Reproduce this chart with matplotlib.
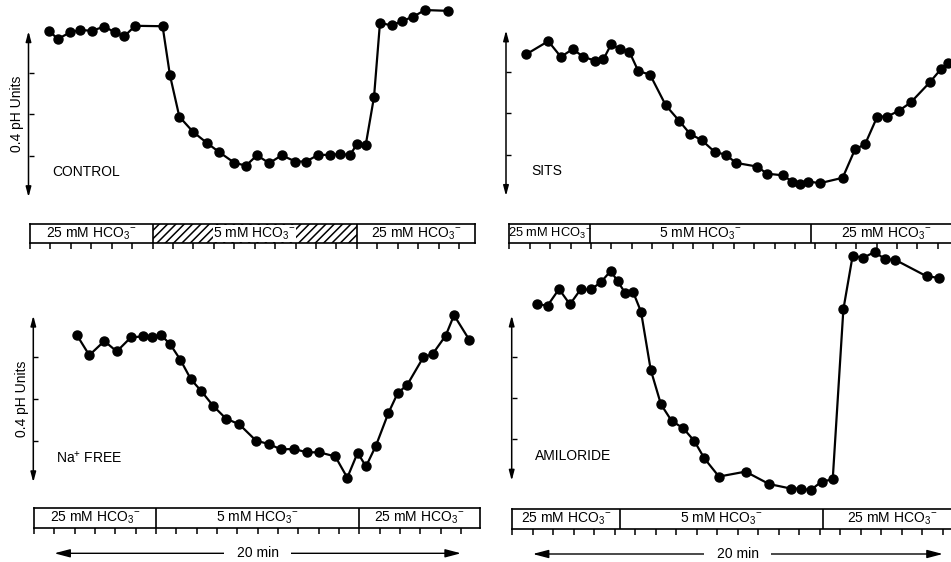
import matplotlib.pyplot as plt
from matplotlib.patches import Rectangle

plt.rcParams['font.family'] = ['Liberation Sans', 'DejaVu Sans']
plt.rcParams['mathtext.fontset'] = 'custom'
plt.rcParams['mathtext.rm'] = 'Liberation Sans'
plt.rcParams['mathtext.it'] = 'Liberation Sans:italic'
plt.rcParams['mathtext.bf'] = 'Liberation Sans:bold'
plt.rcParams['hatch.linewidth'] = 1.1

W, H = 951, 562

# time (min) and change in pH for each condition
control_t = [0.95, 1.35, 1.96, 2.46, 3.02, 3.64, 4.16, 4.62, 5.15, 6.49, 6.85, 7.31,
             7.99, 8.68, 9.25, 10.0, 10.57, 11.11, 11.71, 12.32, 12.99, 13.51, 14.11,
             14.68, 15.15, 15.66, 16.0, 16.43, 16.84, 17.13, 17.70, 18.19, 18.76, 19.33, 20.47]
control_ph = [0.401, 0.381, 0.397, 0.403, 0.401, 0.411, 0.397, 0.388, 0.413, 0.412, 0.294, 0.194,
              0.157, 0.130, 0.109, 0.083, 0.076, 0.101, 0.082, 0.101, 0.086, 0.086, 0.102,
              0.102, 0.104, 0.102, 0.127, 0.125, 0.242, 0.420, 0.414, 0.424, 0.435, 0.451, 0.449]

sits_t = [0.82, 1.91, 2.53, 3.11, 3.63, 4.20, 4.61, 4.99, 5.43, 5.88, 6.32, 6.90, 7.67,
          8.32, 8.86, 9.43, 10.08, 10.61, 11.11, 12.16, 12.62, 13.40, 13.87, 14.25, 14.66,
          15.23, 16.34, 16.95, 17.44, 18.04, 18.53, 19.10, 19.68, 20.62, 21.15, 21.52]
sits_ph = [0.342, 0.374, 0.336, 0.355, 0.336, 0.327, 0.330, 0.366, 0.355, 0.349, 0.302, 0.293, 0.219,
           0.182, 0.150, 0.135, 0.106, 0.100, 0.080, 0.071, 0.054, 0.050, 0.035, 0.029, 0.035,
           0.031, 0.044, 0.113, 0.125, 0.192, 0.192, 0.206, 0.226, 0.275, 0.306, 0.322]

na_t = [2.10, 2.72, 3.46, 4.07, 4.77, 5.38, 5.79, 6.23, 6.69, 7.20, 7.72, 8.21, 8.82, 9.44,
        10.10, 10.92, 11.54, 12.15, 12.80, 13.41, 14.03, 14.82, 15.41, 15.92, 16.33, 16.82,
        17.43, 17.89, 18.36, 19.15, 19.61, 20.25, 20.66, 21.41]
na_ph = [0.354, 0.305, 0.339, 0.314, 0.348, 0.350, 0.348, 0.354, 0.332, 0.294, 0.247, 0.220, 0.183, 0.153,
         0.139, 0.100, 0.092, 0.079, 0.080, 0.072, 0.072, 0.062, 0.011, 0.071, 0.038, 0.088,
         0.166, 0.214, 0.234, 0.300, 0.308, 0.352, 0.401, 0.342]

amil_t = [1.22, 1.72, 2.28, 2.81, 3.33, 3.84, 4.33, 4.80, 5.14, 5.50, 5.90, 6.28, 6.75, 7.25,
          7.77, 8.34, 8.88, 9.37, 10.08, 11.38, 12.52, 13.58, 14.07, 14.55, 15.09, 15.63,
          16.15, 16.60, 17.12, 17.69, 18.18, 18.67, 20.21, 20.83]
amil_ph = [0.427, 0.424, 0.464, 0.427, 0.463, 0.463, 0.481, 0.508, 0.483, 0.455, 0.456, 0.409, 0.269, 0.185,
           0.145, 0.127, 0.096, 0.054, 0.010, 0.022, -0.008, -0.019, -0.019, -0.023, -0.002, 0.003,
           0.415, 0.544, 0.540, 0.554, 0.536, 0.535, 0.495, 0.491]

# solution changes (min): 25 mM -> 5 mM -> 25 mM
control_switch = [6.0, 16.0]
sits_switch = [3.95, 14.8]
na_switch = [6.0, 16.0]
amil_switch = [5.25, 15.15]

hi = r'25 mM HCO$_3{}^{-}$'
lo = r'5 mM HCO$_3{}^{-}$'
bar_labels = [hi, lo, hi]
names = ['CONTROL', 'SITS', 'Na$^{+}$ FREE', 'AMILORIDE']

fig = plt.figure(figsize=(W / 100, H / 100), dpi=100)


def px_axes(left, top, right, bottom):
    return fig.add_axes([left / W, 1 - bottom / H, (right - left) / W, (bottom - top) / H])


# layout in pixels: t0, px/min, y of zero, px per pH unit, arrow x, curve top/bottom, bar top/bottom/right
panels = [
    dict(t=control_t, ph=control_ph, sw=control_switch, name=names[0], t0=30, ppm=20.43,
         zero=197.2, ppu=415, ax_x=28.5, top=0, bot=215, btop=224, bbot=243.3, bright=475,
         ylab=True, hatch=True, span=False),
    dict(t=sits_t, ph=sits_ph, sw=sits_switch, name=names[1], t0=509.3, ppm=20.4,
         zero=196, ppu=414, ax_x=506, top=0, bot=215, btop=224, bbot=243, bright=962,
         ylab=False, hatch=False, span=False),
    dict(t=na_t, ph=na_ph, sw=na_switch, name=names[2], t0=34, ppm=20.33,
         zero=482.3, ppu=416.7, ax_x=33.3, top=245, bot=500, btop=508.3, bbot=528.3, bright=480,
         ylab=True, hatch=False, span=True),
    dict(t=amil_t, ph=amil_ph, sw=amil_switch, name=names[3], t0=512.3, ppm=20.5,
         zero=480.7, ppu=413, ax_x=511.7, top=245, bot=500, btop=509, bbot=529, bright=962,
         ylab=False, hatch=False, span=True),
]

for p in panels:
    right = min(p['bright'], W)
    ax = px_axes(p['ax_x'], p['top'], right, p['bot'])
    x_left = (p['ax_x'] - p['t0']) / p['ppm']
    ax.set_xlim(x_left, (right - p['t0']) / p['ppm'])
    ax.set_ylim((p['zero'] - p['bot']) / p['ppu'], (p['zero'] - p['top']) / p['ppu'])
    for s in ax.spines.values():
        s.set_visible(False)
    ax.patch.set_alpha(0)
    ax.set_xticks([])
    ax.set_yticks([0.1, 0.2, 0.3])
    ax.tick_params(axis='y', direction='in', length=3.6, width=1.0, labelleft=False)

    ax.annotate('', xy=(x_left, 0.4), xytext=(x_left, 0.0),
                arrowprops=dict(arrowstyle='<|-|>,head_length=0.6,head_width=0.16',
                                color='black', lw=1.1, shrinkA=0, shrinkB=0),
                annotation_clip=False)
    if p['ylab']:
        ax.annotate('0.4 pH Units', xy=(x_left, 0.2), xytext=(-11, 0),
                    textcoords='offset pixels', rotation=90, ha='center', va='center',
                    fontsize=10)
    ax.text(1.1, 0.06, p['name'], ha='left', va='center', fontsize=10)

    ax.plot(p['t'], p['ph'], '-o', color='black', lw=1.6, ms=6.5, clip_on=False)

    # solution bar with 1-min ticks
    bx = px_axes(p['t0'], p['btop'], p['bright'], p['bbot'])
    t_end = (p['bright'] - p['t0']) / p['ppm']
    bx.set_xlim(0, t_end)
    bx.set_ylim(0, 1)
    bx.set_yticks([])
    bx.set_xticks(range(0, int(t_end) + 1))
    bx.tick_params(axis='x', direction='out', length=4.5, width=1.1, labelbottom=False)
    for s in bx.spines.values():
        s.set_linewidth(1.2)
    a, b = p['sw']
    if p['hatch']:
        bx.add_patch(Rectangle((a, 0), b - a, 1, fill=False, hatch='////',
                               edgecolor='black', lw=0))
    for s in p['sw']:
        bx.axvline(s, color='black', lw=1.2)
    edges = [0, a, b, t_end]
    for i, lab in enumerate(bar_labels):
        mid = (edges[i] + edges[i + 1]) / 2
        kw = {}
        if p['hatch'] and i == 1:
            kw['bbox'] = dict(facecolor='white', edgecolor='none', pad=0.3)
        # narrow first segment gets a tighter label
        size = 9.3 if (edges[i + 1] - edges[i]) < 4.5 else 10
        bx.text(mid, 0.5, lab, ha='center', va='center', fontsize=size, **kw)

    if p['span']:
        yy = -1.25
        bx.annotate('', xy=(21, yy), xytext=(1, yy), xycoords=('data', 'axes fraction'),
                    arrowprops=dict(arrowstyle='<|-|>,head_length=0.95,head_width=0.25',
                                    color='black', lw=1.0, shrinkA=0, shrinkB=0),
                    annotation_clip=False)
        bx.text(11, yy, '20 min', transform=bx.get_xaxis_transform(), ha='center',
                va='center', fontsize=10,
                bbox=dict(facecolor='white', edgecolor='none', pad=9))

fig.savefig('out.png', dpi=100)
